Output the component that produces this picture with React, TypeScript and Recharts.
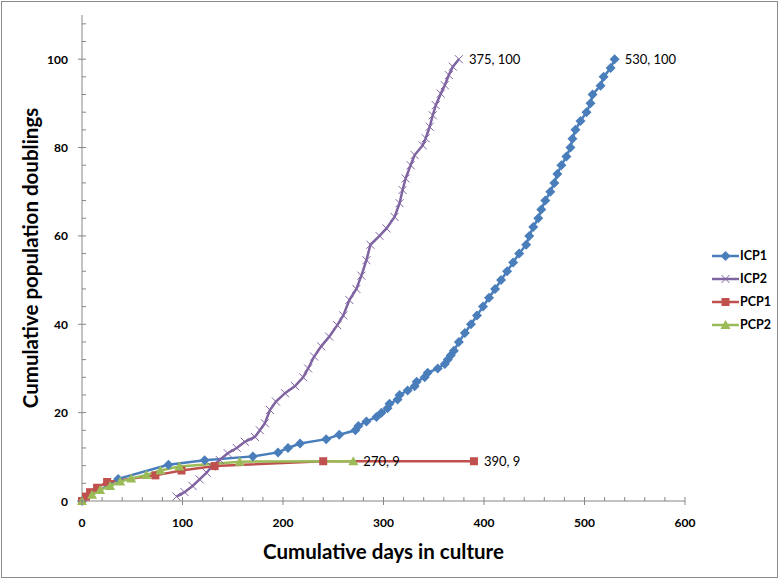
import React from "react";
import { LineChart, Line, XAxis, YAxis, Legend } from "recharts";

// ---- data ----
const icp1Days = [0,36,86,122,170,195,205,217,243,256,272,275,283,293,298,304,306,314,316,324,331,333,341,344,354,361,364,367,370,375,381,387,393,399,405,411,417,423,429,435,442,445,449,454,457,461,466,470,473,477,482,486,488,491,496,502,506,508,516,519,526,530];
const icp1Pd = [0,5,8.2,9.2,10.1,11,12,13,14,15,16,17,18,19,20,21,22,23,24,25,26,27,28,29,30,31,32,33,34,36,38,40,42,44,46,48,50,52,54,56,58,60,62,64,66,68,70,72,74,76,78,80,82,84,86,88,90,92,94,96,98,100];

const icp2Days = [94,102,110,117,124,129,137,145,154,162,172,177,182,187,193,202,212,220,225,231,238,246,254,260,266,273,278,283,287,296,303,311,316,319,322,327,331,339,342,346,349,352,357,361,365,369,375];
const icp2Pd = [1,2,3.4,4.9,6.4,7.8,9.3,10.8,12,13.4,14.5,16,17.6,20.6,22.5,24.4,26,28,30,32.7,35,37.2,39.8,42,45.5,48,51,54.5,58,60,61.7,64.3,67.4,70.4,73,76,78.3,80.5,82.1,84.7,87.3,89.6,92.2,94.1,96.4,98.3,100];

const pcp1Days = [0,4,8,15,25,73,99,132,240,390];
const pcp1Pd = [0,1,2,3,4.3,5.8,6.9,7.9,9,9];

const pcp2Days = [0,10,18,28,38,49,64,78,97,157,270];
const pcp2Pd = [0,1.4,2.5,3.4,4.4,5.1,5.9,6.9,7.8,8.9,9];

const xTicks = [0,20,40,60,80,100,120,140,160,180,200,220,240,260,280,300,320,340,360,380,400,420,440,460,480,500,520,540,560,580,600];
const yTicks = [0,4,8,12,16,20,24,28,32,36,40,44,48,52,56,60,64,68,72,76,80,84,88,92,96,100,104,108];
const xMajor = 100;
const yMajor = 20;

const FONT = "Lato, 'Noto Sans', sans-serif";
const AXIS_COLOR = "#868686";

const zip = (d: number[], v: number[]) => d.map((x, i) => ({ d: x, v: v[i] }));

type Marker = "diamond" | "cross" | "square" | "triangle";
const series = [
  { name: "ICP1", color: "#4A7EBB", marker: "diamond" as Marker, data: zip(icp1Days, icp1Pd) },
  { name: "ICP2", color: "#8064A2", marker: "cross" as Marker, data: zip(icp2Days, icp2Pd) },
  { name: "PCP1", color: "#C0504D", marker: "square" as Marker, data: zip(pcp1Days, pcp1Pd) },
  { name: "PCP2", color: "#9BBB59", marker: "triangle" as Marker, data: zip(pcp2Days, pcp2Pd) },
];

function drawMarker(m: Marker, cx: number, cy: number, color: string, key?: any) {
  switch (m) {
    case "diamond":
      return <path key={key} d={`M${cx},${cy - 5}L${cx + 5},${cy}L${cx},${cy + 5}L${cx - 5},${cy}Z`} fill={color} />;
    case "cross":
      return (
        <g key={key} stroke={color} strokeWidth={1}>
          <line x1={cx - 4} y1={cy - 4} x2={cx + 4} y2={cy + 4} />
          <line x1={cx - 4} y1={cy + 4} x2={cx + 4} y2={cy - 4} />
        </g>
      );
    case "square":
      return <rect key={key} x={cx - 4} y={cy - 4} width={8} height={8} fill={color} />;
    case "triangle":
      return <path key={key} d={`M${cx},${cy - 5}L${cx + 5},${cy + 4}L${cx - 5},${cy + 4}Z`} fill={color} />;
  }
}

const XTick = (props: any) => {
  const { x, y, payload } = props;
  const major = payload.value % xMajor === 0;
  return (
    <g>
      <line x1={x} x2={x} y1={y - 4} y2={major ? y + 4 : y} stroke={AXIS_COLOR} strokeWidth={1} />
      {major && (
        <text x={x} y={y + 21} textAnchor="middle" dominantBaseline="central" fontFamily={FONT} fontWeight="bold" fontSize={12} fill="#000">
          {payload.value}
        </text>
      )}
    </g>
  );
};

const YTick = (props: any) => {
  const { x, y, payload } = props;
  const major = payload.value % yMajor === 0;
  return (
    <g>
      <line x1={major ? x - 4 : x} x2={x + 4} y1={y} y2={y} stroke={AXIS_COLOR} strokeWidth={1} />
      {major && (
        <text x={x - 14} y={y} textAnchor="end" dominantBaseline="central" fontFamily={FONT} fontWeight="bold" fontSize={12} fill="#000">
          {payload.value}
        </text>
      )}
    </g>
  );
};

const LegendContent = () => (
  <div style={{ display: "flex", flexDirection: "column", gap: 0 }}>
    {series.map((s) => (
      <div key={s.name} style={{ display: "flex", alignItems: "center", height: 23 }}>
        <svg width={27} height={12} style={{ display: "block" }}>
          <line x1={0} x2={27} y1={6} y2={6} stroke={s.color} strokeWidth={2.5} />
          {drawMarker(s.marker, 13.5, 6, s.color)}
        </svg>
        <span style={{ fontFamily: FONT, fontWeight: "bold", fontSize: 12.5, marginLeft: 1, color: "#000" }}>{s.name}</span>
      </div>
    ))}
  </div>
);

export default function App() {
  return (
    <div style={{ position: "absolute", left: 0, top: 0, width: 779, height: 579, background: "#fff" }}>
      <div style={{ position: "absolute", left: 1, top: 1, width: 775, height: 575, border: "1px solid #8a8a8a" }} />
      <div style={{ position: "absolute", left: 0, top: 0 }}>
        <LineChart width={779} height={579} margin={{ top: 15, right: 94, bottom: 18, left: 22 }}>
          <XAxis
            type="number"
            dataKey="d"
            domain={[0, 600]}
            ticks={xTicks}
            interval={0}
            tickSize={0}
            tickMargin={0}
            tickLine={false}
            tick={<XTick />}
            height={60}
            stroke={AXIS_COLOR}
            label={(p: any) => {
              const vb = p.viewBox || {};
              return (
                <text x={vb.x + vb.width / 2} y={vb.y + 50} textAnchor="middle" dominantBaseline="central" fontFamily={FONT} fontWeight="bold" fontSize={20.5} fill="#000">
                  Cumulative days in culture
                </text>
              );
            }}
          />
          <YAxis
            type="number"
            domain={[0, 110]}
            ticks={yTicks}
            interval={0}
            tickSize={0}
            tickMargin={0}
            tickLine={false}
            tick={<YTick />}
            width={60}
            stroke={AXIS_COLOR}
            label={(p: any) => {
              const vb = p.viewBox || {};
              const cx = vb.x + 8;
              const cy = vb.y + vb.height / 2;
              return (
                <text x={cx} y={cy} transform={`rotate(-90 ${cx} ${cy})`} textAnchor="middle" dominantBaseline="central" fontFamily={FONT} fontWeight="bold" fontSize={20.5} fill="#000">
                  Cumulative population doublings
                </text>
              );
            }}
          />
          <Legend
            layout="vertical"
            align="center"
            verticalAlign="middle"
            content={<LegendContent />}
            wrapperStyle={{ left: 712, top: 244, width: 67 }}
          />
          {series.map((s) => {
            const last = s.data.length - 1;
            return (
              <Line
                key={s.name}
                name={s.name}
                data={s.data}
                dataKey="v"
                type="linear"
                stroke={s.color}
                strokeWidth={2.5}
                isAnimationActive={false}
                dot={(p: any) => drawMarker(s.marker, p.cx, p.cy, s.color, `${s.name}-${p.index}`) as any}
                activeDot={false}
                label={(p: any) =>
                  p.index === last ? (
                    <text key={`lbl-${s.name}`} x={p.x + 10} y={p.y} dominantBaseline="central" fontFamily={FONT} fontSize={13} fill="#000">
                      {`${s.data[last].d}, ${s.data[last].v}`}
                    </text>
                  ) : (
                    <g key={`lbl-${s.name}-${p.index}`} />
                  )
                }
              />
            );
          })}
        </LineChart>
      </div>
    </div>
  );
}
